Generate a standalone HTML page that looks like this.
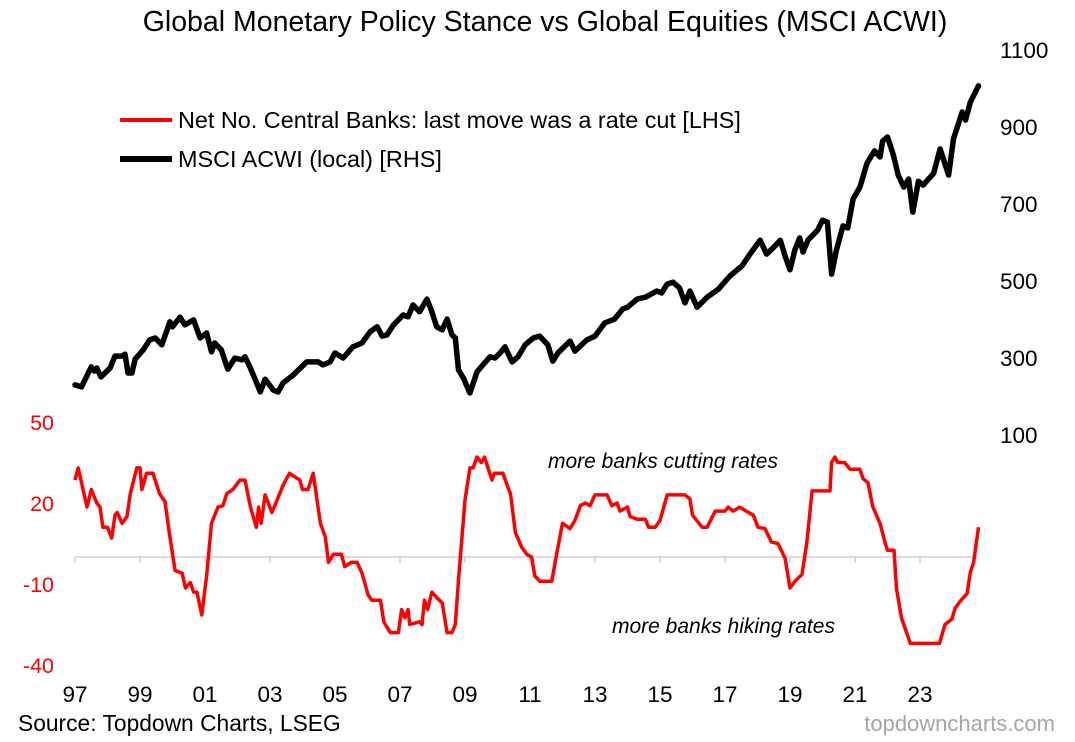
<!DOCTYPE html>
<html><head><meta charset="utf-8">
<style>
html,body{margin:0;padding:0;background:#fff;}
svg{display:block;font-family:"Liberation Sans",Arial,sans-serif;}
</style></head>
<body>
<svg id="chart" width="1075" height="742" viewBox="0 0 1075 742" xmlns="http://www.w3.org/2000/svg">
<text x="545" y="31" font-size="28.5" text-anchor="middle">Global Monetary Policy Stance vs Global Equities (MSCI ACWI)</text>
<g>
<line x1="120" y1="120" x2="172" y2="120" stroke="#ff0000" stroke-width="4"/>
<text x="178" y="128" font-size="23.4">Net No. Central Banks: last move was a rate cut [LHS]</text>
<line x1="120" y1="159" x2="172" y2="159" stroke="#000" stroke-width="6"/>
<text x="178" y="167" font-size="23.4">MSCI ACWI (local) [RHS]</text>
</g>
<text x="548" y="468" font-size="21" font-style="italic">more banks cutting rates</text>
<text x="612" y="633" font-size="21" font-style="italic">more banks hiking rates</text>
<text x="18" y="731" font-size="22.8">Source: Topdown Charts, LSEG</text>
<text x="1055" y="731" font-size="22" fill="#a6a6a6" text-anchor="end">topdowncharts.com</text>
<g id="axes"></g>
<g id="series"></g>
</svg>
<script>
const xTickLabels = ["97","99","01","03","05","07","09","11","13","15","17","19","21","23"];
const leftTicks = [50,20,-10,-40];
const rightTicks = [1100,900,700,500,300,100];

const cbDates = [1997.0,1997.1,1997.37,1997.5,1997.67,1997.77,1997.86,1998.0,1998.13,1998.23,1998.3,1998.45,1998.6,1998.7,1998.9,1999.0,1999.06,1999.2,1999.4,1999.6,1999.77,1999.9,2000.08,2000.3,2000.4,2000.55,2000.65,2000.75,2000.9,2001.06,2001.2,2001.4,2001.55,2001.67,2001.86,2002.07,2002.23,2002.4,2002.58,2002.65,2002.73,2002.85,2003.06,2003.2,2003.4,2003.6,2003.92,2004.0,2004.17,2004.33,2004.55,2004.7,2004.8,2004.95,2005.2,2005.3,2005.5,2005.68,2005.83,2006.02,2006.13,2006.4,2006.5,2006.7,2006.95,2007.05,2007.15,2007.25,2007.3,2007.6,2007.68,2007.75,2007.85,2007.98,2008.13,2008.3,2008.45,2008.6,2008.7,2008.8,2009.0,2009.15,2009.25,2009.37,2009.5,2009.6,2009.83,2009.9,2010.17,2010.3,2010.4,2010.55,2010.75,2010.9,2011.05,2011.15,2011.3,2011.67,2011.82,2012.0,2012.23,2012.38,2012.55,2012.7,2012.85,2013.0,2013.37,2013.52,2013.68,2013.77,2014.0,2014.08,2014.3,2014.55,2014.65,2014.85,2015.0,2015.22,2015.77,2015.92,2016.0,2016.3,2016.45,2016.7,2017.0,2017.1,2017.25,2017.45,2017.65,2017.87,2018.02,2018.23,2018.43,2018.63,2018.85,2019.0,2019.15,2019.37,2019.52,2019.68,2020.23,2020.28,2020.38,2020.47,2020.68,2020.85,2021.15,2021.25,2021.4,2021.55,2021.77,2021.92,2022.0,2022.2,2022.28,2022.43,2022.7,2023.6,2023.77,2023.98,2024.08,2024.23,2024.45,2024.55,2024.65,2024.8];
const cbValues = [28.5,33,18.5,25,20,18.5,11,11,7,15.5,16.5,12.5,15,23.5,33,33,25,31,31,23.5,20.5,9,-5,-6,-11.5,-9.5,-13,-13,-21.5,-6,12.5,18.5,19,23.5,25,28.5,28.5,18.5,11,18.5,12.5,23,16.5,20.5,26.5,31,28.5,25,25,31,12.5,7.5,-2,1,1,-3.5,-2,-2,-6,-14,-16,-16,-24,-28,-28,-19.5,-22.5,-19.5,-25,-24,-25,-16,-19.5,-13,-15,-17,-28,-28,-25,-8.5,21,33,33,37,35,37,28.5,31,31,26.5,23.5,9,3.5,1,0,-7,-9,-9,1,12.5,10.5,13.5,19,20,19,23,23,19,20,17,18.5,15,14,14,11,11,13.5,23,23,21.5,15.5,11,11,17,17,18.5,17,18.5,17,15.5,11,10.5,5.5,5,-0.5,-11.5,-9,-6.5,5.5,24.5,24.5,35,37,35,35,32.5,32.5,29,27.5,18.5,12.5,5.5,2.5,2.5,-12,-22.5,-32,-32,-25,-23,-19,-16.5,-13.5,-5.5,-2,11];

const eqDates = [1997.0,1997.2,1997.5,1997.6,1997.67,1997.8,1998.08,1998.23,1998.45,1998.54,1998.63,1998.75,1998.85,1999.1,1999.3,1999.47,1999.67,1999.92,2000.0,2000.23,2000.38,2000.65,2000.85,2001.05,2001.2,2001.3,2001.5,2001.7,2001.92,2002.14,2002.23,2002.38,2002.55,2002.7,2002.85,2003.1,2003.25,2003.4,2003.72,2004.13,2004.48,2004.63,2004.85,2005.0,2005.25,2005.55,2005.83,2006.08,2006.3,2006.45,2006.6,2006.8,2007.1,2007.25,2007.4,2007.6,2007.83,2007.98,2008.13,2008.3,2008.45,2008.6,2008.7,2008.8,2008.95,2009.15,2009.37,2009.55,2009.77,2009.92,2010.08,2010.23,2010.45,2010.63,2010.85,2011.1,2011.3,2011.55,2011.7,2011.86,2012.23,2012.38,2012.75,2013.0,2013.3,2013.6,2013.85,2014.0,2014.3,2014.55,2014.9,2015.05,2015.22,2015.4,2015.6,2015.77,2015.92,2016.14,2016.45,2016.8,2017.15,2017.52,2017.77,2018.08,2018.28,2018.48,2018.7,2018.85,2019.0,2019.15,2019.3,2019.4,2019.55,2019.85,2020.0,2020.15,2020.28,2020.43,2020.63,2020.78,2020.94,2021.15,2021.37,2021.6,2021.77,2021.85,2022.0,2022.18,2022.33,2022.5,2022.65,2022.78,2022.95,2023.1,2023.42,2023.62,2023.88,2024.03,2024.3,2024.4,2024.55,2024.8];
const eqValues = [230,225,277,266,274,251,274,305,305,310,261,261,297,321,347,352,334,394,381,406,386,399,352,365,316,339,321,271,300,295,303,277,243,212,245,217,212,235,256,290,290,282,290,313,300,329,339,368,381,357,360,386,412,407,438,420,453,420,381,373,401,360,352,269,248,209,264,282,303,300,313,329,290,303,334,352,357,334,292,313,344,318,347,357,391,401,427,432,453,458,474,469,492,497,482,443,474,432,458,479,513,539,570,606,570,586,606,565,529,581,612,575,606,632,658,653,518,581,643,638,713,744,806,838,822,863,874,827,775,744,765,679,759,749,780,843,775,869,939,918,965,1007];

const NS="http://www.w3.org/2000/svg";
const xScale = t => 75 + (t - 1997) * 32.5;
const yLeft = v => 557 - v * 2.7;
const yRight = v => 50 + (1100 - v) * 0.385;
const axes = document.getElementById('axes');
const series = document.getElementById('series');
function mk(tag, attrs, parent){const e=document.createElementNS(NS,tag);for(const k in attrs)e.setAttribute(k,attrs[k]);parent.appendChild(e);return e;}

const zl = mk('line',{x1:75,y1:yLeft(0),x2:978,y2:yLeft(0),stroke:'#d0d0d0','stroke-width':1.5},axes);


xTickLabels.forEach((lab,i)=>{
  const yr = 1997 + i*2;
  const x = xScale(yr);
  const tk = mk('line',{x1:x,y1:yLeft(0),x2:x,y2:yLeft(0)+6,stroke:'#d0d0d0','stroke-width':1.5},axes);
  
  
  const t = mk('text',{x:x,y:702,'font-size':22.5,'text-anchor':'middle'},axes);
  t.textContent = lab;
  
  
});
leftTicks.forEach(v=>{
  const t = mk('text',{x:54,y:yLeft(v)+8,'font-size':21.5,'text-anchor':'end',fill:'#ff0000'},axes);
  t.textContent = v;
  
  
});
rightTicks.forEach(v=>{
  const t = mk('text',{x:1000,y:yRight(v)+8,'font-size':22.5,'text-anchor':'start'},axes);
  t.textContent = v;
  
  
});

const eqPts = eqDates.map((d,i)=>xScale(d).toFixed(1)+','+yRight(eqValues[i]).toFixed(1)).join(' ');
const eqLine = mk('polyline',{points:eqPts,fill:'none',stroke:'#000','stroke-width':5.5,'stroke-linejoin':'round','stroke-linecap':'round'},series);



const cbPts = cbDates.map((d,i)=>xScale(d).toFixed(1)+','+yLeft(cbValues[i]).toFixed(1)).join(' ');
const cbLine = mk('polyline',{points:cbPts,fill:'none',stroke:'#ff0000','stroke-width':3.5,'stroke-linejoin':'round'},series);


</script>
</body></html>
